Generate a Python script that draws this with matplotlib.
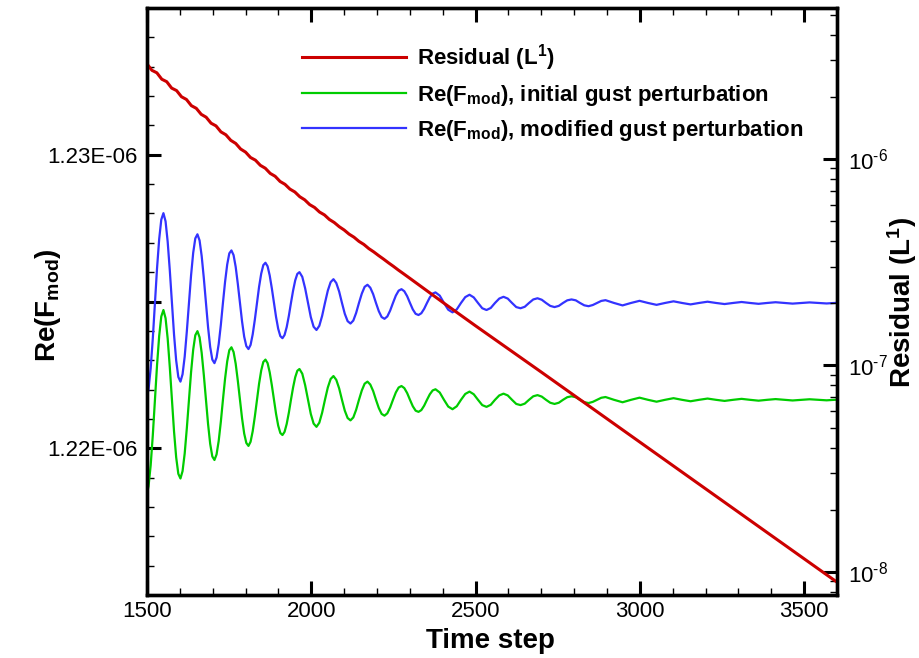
import numpy as np
import matplotlib
matplotlib.use("Agg")
from matplotlib import pyplot as plt
from matplotlib.ticker import (FixedLocator, FixedFormatter, MultipleLocator,
                               LogLocator, NullFormatter, FuncFormatter)

plt.rcParams['font.family'] = 'Liberation Sans'
plt.rcParams['mathtext.fontset'] = 'custom'
plt.rcParams['mathtext.rm'] = 'Liberation Sans'
plt.rcParams['mathtext.bf'] = 'Liberation Sans:bold'
plt.rcParams['mathtext.it'] = 'Liberation Sans:italic'

# residual (L1), log10 of the value read on the right axis
res_steps = [1500, 1515, 1530, 1545, 1560, 1575, 1590, 1605, 1620, 1635,
             1650, 1665, 1680, 1695, 1710, 1725, 1740, 1755, 1770, 1785,
             1800, 1815, 1830, 1845, 1860, 1875, 1890, 1905, 1920, 1935,
             1950, 1965, 1980, 1995, 2010, 2025, 2040, 2055, 2070, 2085,
             2100, 2115, 2130, 2145, 2160, 2175, 2190, 2205, 2220, 2235,
             2250, 2265, 2280, 2300, 2400, 2500, 2600, 2700, 2800, 2900,
             3000, 3100, 3200, 3300, 3400, 3500, 3600]
res_exp = [-5.540, -5.571, -5.583, -5.614, -5.626, -5.657, -5.669, -5.699, -5.712, -5.742,
           -5.755, -5.784, -5.798, -5.827, -5.840, -5.869, -5.883, -5.910, -5.925, -5.952,
           -5.967, -5.993, -6.006, -6.031, -6.045, -6.070, -6.084, -6.109, -6.123, -6.146,
           -6.160, -6.183, -6.198, -6.221, -6.235, -6.257, -6.271, -6.293, -6.308, -6.328,
           -6.344, -6.364, -6.379, -6.399, -6.414, -6.434, -6.450, -6.468, -6.485, -6.503,
           -6.520, -6.538, -6.555, -6.578, -6.694, -6.808, -6.920, -7.032, -7.145, -7.258,
           -7.371, -7.484, -7.597, -7.710, -7.823, -7.936, -8.049]

# time steps for the two Re(F_mod) curves
steps = [1500.0, 1504.7, 1511.2, 1517.7, 1524.1, 1530.6, 1537.1, 1543.5,
         1550.0, 1556.5, 1562.9, 1569.4, 1575.9, 1582.3, 1588.8, 1595.3,
         1601.8, 1608.2, 1614.7, 1621.2, 1627.6, 1634.1, 1640.6, 1647.0,
         1653.5, 1660.0, 1666.4, 1672.9, 1679.4, 1685.8, 1692.3, 1698.8,
         1705.3, 1711.7, 1718.2, 1724.7, 1731.1, 1737.6, 1744.1, 1750.5,
         1757.0, 1763.5, 1769.9, 1776.4, 1782.9, 1789.3, 1795.8, 1802.3,
         1808.8, 1815.2, 1821.7, 1828.2, 1834.6, 1841.1, 1847.6, 1854.0,
         1860.5, 1867.0, 1873.4, 1879.9, 1886.4, 1892.8, 1899.3, 1905.8,
         1912.3, 1918.7, 1925.2, 1931.7, 1938.1, 1944.6, 1951.1, 1957.5,
         1964.0, 1972.6, 1981.3, 1989.9, 1998.5, 2007.1, 2015.8, 2024.4, 2033.0, 2041.6, 2050.3, 2058.9,
         2067.5, 2076.1, 2084.8, 2093.4, 2102.0, 2110.6, 2119.3, 2127.9, 2136.5, 2145.1, 2153.8, 2162.4,
         2171.0, 2179.6, 2188.3, 2196.9, 2205.5, 2214.1, 2222.8, 2231.4, 2240.0, 2248.6, 2257.3, 2265.9,
         2274.5, 2283.1, 2291.8, 2300.4, 2309.0, 2317.6, 2326.3, 2334.9, 2343.5, 2352.1, 2360.8, 2369.4,
         2378.0, 2390.9, 2403.9, 2416.8, 2429.8, 2442.7, 2455.6, 2468.6,
         2481.5, 2494.4, 2507.4, 2520.3, 2533.3, 2546.2, 2559.1, 2572.1,
         2585.0, 2597.9, 2610.9, 2623.8, 2636.8, 2649.7, 2662.6, 2675.6,
         2688.5, 2701.4, 2714.4, 2727.3, 2740.3, 2753.2, 2766.1, 2779.1,
         2792.0, 2804.9, 2817.9, 2830.8, 2843.8, 2856.7, 2869.6, 2882.6,
         2895.5, 2921.4, 2947.3, 2973.1, 2999.0, 3024.9, 3050.8, 3076.6,
         3102.5, 3128.4, 3154.3, 3180.1, 3206.0, 3231.9, 3257.8, 3283.6,
         3309.5, 3335.4, 3361.3, 3387.1, 3413.0, 3438.9, 3464.8, 3490.6,
         3516.5, 3542.4, 3568.3, 3594.1, 3600.0]

# Re(F_mod), modified gust perturbation (in 1E-06)
re_modified = [1.22176, 1.22201, 1.22272, 1.22375, 1.22495, 1.22614, 1.22713, 1.22779,
               1.22801, 1.22773, 1.22704, 1.22606, 1.22495, 1.22387, 1.22299, 1.22243,
               1.22227, 1.22252, 1.22312, 1.22398, 1.22495, 1.22589, 1.22666, 1.22715,
               1.22729, 1.22708, 1.22655, 1.22580, 1.22495, 1.22413, 1.22345, 1.22302,
               1.22290, 1.22309, 1.22355, 1.22420, 1.22495, 1.22567, 1.22626, 1.22664,
               1.22674, 1.22658, 1.22618, 1.22560, 1.22495, 1.22432, 1.22380, 1.22348,
               1.22338, 1.22352, 1.22388, 1.22438, 1.22495, 1.22550, 1.22595, 1.22624,
               1.22632, 1.22620, 1.22589, 1.22545, 1.22495, 1.22447, 1.22407, 1.22382,
               1.22375, 1.22386, 1.22413, 1.22451, 1.22495, 1.22537, 1.22572, 1.22594,
               1.22600, 1.22584, 1.22545, 1.22495, 1.22447, 1.22414, 1.22403, 1.22417, 1.22451, 1.22495, 1.22537, 1.22566,
               1.22576, 1.22563, 1.22534, 1.22495, 1.22458, 1.22433, 1.22425, 1.22435, 1.22461, 1.22495, 1.22527, 1.22550,
               1.22557, 1.22547, 1.22525, 1.22495, 1.22467, 1.22447, 1.22441, 1.22449, 1.22469, 1.22495, 1.22520, 1.22537,
               1.22542, 1.22535, 1.22518, 1.22495, 1.22473, 1.22458, 1.22454, 1.22460, 1.22475, 1.22495, 1.22514, 1.22527,
               1.22531, 1.22520, 1.22495, 1.22472, 1.22463, 1.22473, 1.22495, 1.22515,
               1.22523, 1.22514, 1.22495, 1.22477, 1.22471, 1.22478, 1.22495, 1.22510,
               1.22516, 1.22510, 1.22495, 1.22481, 1.22477, 1.22482, 1.22495, 1.22507,
               1.22511, 1.22506, 1.22495, 1.22485, 1.22481, 1.22485, 1.22495, 1.22504,
               1.22507, 1.22504, 1.22495, 1.22487, 1.22484, 1.22488, 1.22495, 1.22502,
               1.225045, 1.22495, 1.224867, 1.22495, 1.225023, 1.22495, 1.224886, 1.22495,
               1.225006, 1.22495, 1.224901, 1.22495, 1.224993, 1.22495, 1.224913, 1.22495,
               1.224983, 1.22495, 1.224921, 1.22495, 1.224975, 1.22495, 1.224928, 1.22495,
               1.224969, 1.22495, 1.224933, 1.22495, 1.224955]

# Re(F_mod), initial gust perturbation (in 1E-06)
re_initial = [1.21846, 1.21871, 1.21942, 1.22045, 1.22165, 1.22284, 1.22383, 1.22449,
              1.22471, 1.22443, 1.22374, 1.22276, 1.22165, 1.22057, 1.21969, 1.21913,
              1.21897, 1.21922, 1.21982, 1.22068, 1.22165, 1.22259, 1.22336, 1.22385,
              1.22399, 1.22378, 1.22325, 1.22250, 1.22165, 1.22083, 1.22015, 1.21972,
              1.21960, 1.21979, 1.22025, 1.22090, 1.22165, 1.22237, 1.22296, 1.22334,
              1.22344, 1.22328, 1.22288, 1.22230, 1.22165, 1.22102, 1.22050, 1.22018,
              1.22008, 1.22022, 1.22058, 1.22108, 1.22165, 1.22220, 1.22265, 1.22294,
              1.22302, 1.22290, 1.22259, 1.22215, 1.22165, 1.22117, 1.22077, 1.22052,
              1.22045, 1.22056, 1.22083, 1.22121, 1.22165, 1.22207, 1.22242, 1.22264,
              1.22270, 1.22254, 1.22215, 1.22165, 1.22117, 1.22084, 1.22073, 1.22087, 1.22121, 1.22165, 1.22207, 1.22236,
              1.22246, 1.22233, 1.22204, 1.22165, 1.22128, 1.22103, 1.22095, 1.22105, 1.22131, 1.22165, 1.22197, 1.22220,
              1.22227, 1.22217, 1.22195, 1.22165, 1.22137, 1.22117, 1.22111, 1.22119, 1.22139, 1.22165, 1.22190, 1.22207,
              1.22212, 1.22205, 1.22188, 1.22165, 1.22143, 1.22128, 1.22124, 1.22130, 1.22145, 1.22165, 1.22184, 1.22197,
              1.22201, 1.22190, 1.22165, 1.22142, 1.22133, 1.22143, 1.22165, 1.22185,
              1.22193, 1.22184, 1.22165, 1.22147, 1.22141, 1.22148, 1.22165, 1.22180,
              1.22186, 1.22180, 1.22165, 1.22151, 1.22147, 1.22152, 1.22165, 1.22177,
              1.22181, 1.22176, 1.22165, 1.22155, 1.22151, 1.22155, 1.22165, 1.22174,
              1.22177, 1.22174, 1.22165, 1.22157, 1.22154, 1.22158, 1.22165, 1.22172,
              1.221745, 1.22165, 1.221567, 1.22165, 1.221723, 1.22165, 1.221586, 1.22165,
              1.221706, 1.22165, 1.221601, 1.22165, 1.221693, 1.22165, 1.221613, 1.22165,
              1.221683, 1.22165, 1.221621, 1.22165, 1.221675, 1.22165, 1.221628, 1.22165,
              1.221669, 1.22165, 1.221633, 1.22165, 1.221655]

left_labels = ['1.22E-06', '', '1.23E-06']


def decade_label(v, pos):
    # 10 with a small raised exponent, hyphen instead of the wide minus
    e = int(round(np.log10(v)))
    sign = '\u2010' if e < 0 else ''
    return '10$^{%s%d}$' % (sign, abs(e))


fig = plt.figure(figsize=(9.2, 6.58), dpi=100)
ax = fig.add_axes([147/920, 63/658, 690/920, 587/658])

g_line, = ax.plot(steps, np.array(re_initial)*1e-6, color='#00cc00', lw=1.6,
                  label=r'Re(F$_{\mathbf{mod}}$), initial gust perturbation')
b_line, = ax.plot(steps, np.array(re_modified)*1e-6, color='#3333ff', lw=1.6,
                  label=r'Re(F$_{\mathbf{mod}}$), modified gust perturbation')

ax.set_xlim(1500, 3600)
ax.set_ylim(1.215e-6, 1.235e-6)
ax.xaxis.set_major_locator(MultipleLocator(500))
ax.xaxis.set_minor_locator(MultipleLocator(100))
ax.yaxis.set_major_locator(FixedLocator([1.22e-6, 1.225e-6, 1.23e-6]))
ax.yaxis.set_major_formatter(FixedFormatter(left_labels))
ax.yaxis.set_minor_locator(MultipleLocator(1e-9))
ax.tick_params(axis='both', which='both', direction='in', labelsize=16)
ax.tick_params(axis='x', which='both', top=True)
ax.tick_params(axis='y', which='both', right=False, pad=7)
ax.tick_params(axis='x', which='major', pad=4)
ax.tick_params(which='major', length=10, width=2.2)
ax.tick_params(which='minor', length=5, width=1.0)

ax2 = ax.twinx()
r_line, = ax2.plot(res_steps, 10.0**np.array(res_exp), color='#cc0000', lw=2.2,
                   label=r'Residual (L$^{\mathbf{1}}$)')
ax2.set_yscale('log')
ax2.set_ylim(7.74e-9, 5.38e-6)
ax2.yaxis.set_major_locator(LogLocator(base=10, numticks=10))
ax2.yaxis.set_major_formatter(FuncFormatter(decade_label))
ax2.yaxis.set_minor_locator(LogLocator(base=10, subs=np.arange(2, 10), numticks=20))
ax2.yaxis.set_minor_formatter(NullFormatter())
ax2.tick_params(axis='y', which='both', direction='in', labelsize=16, pad=8)
ax2.tick_params(which='major', length=10, width=2.2)
ax2.tick_params(which='minor', length=5, width=1.0)

for a in (ax, ax2):
    for s in a.spines.values():
        s.set_linewidth(2.4)

fig.text(48/920, 1 - 305/658, r'Re(F$_{\mathbf{mod}}$)', rotation=90,
         ha='center', va='center', fontsize=20, fontweight='bold')
fig.text(902/920, 1 - 302/658, r'Residual (L$^{\mathbf{1}}$)', rotation=90,
         ha='center', va='center', fontsize=20, fontweight='bold')
fig.text(490/920, 1 - 641/658, 'Time step', fontweight='bold',
         ha='center', va='center', fontsize=20)

ax2.legend(handles=[r_line, g_line, b_line], loc='upper left',
           bbox_to_anchor=(0.224, 0.9415), frameon=False,
           prop={'size': 16, 'weight': 'bold'},
           handlelength=4.7, handletextpad=0.5, labelspacing=0.45,
           borderpad=0, borderaxespad=0)

fig.savefig('out.png', dpi=100)
